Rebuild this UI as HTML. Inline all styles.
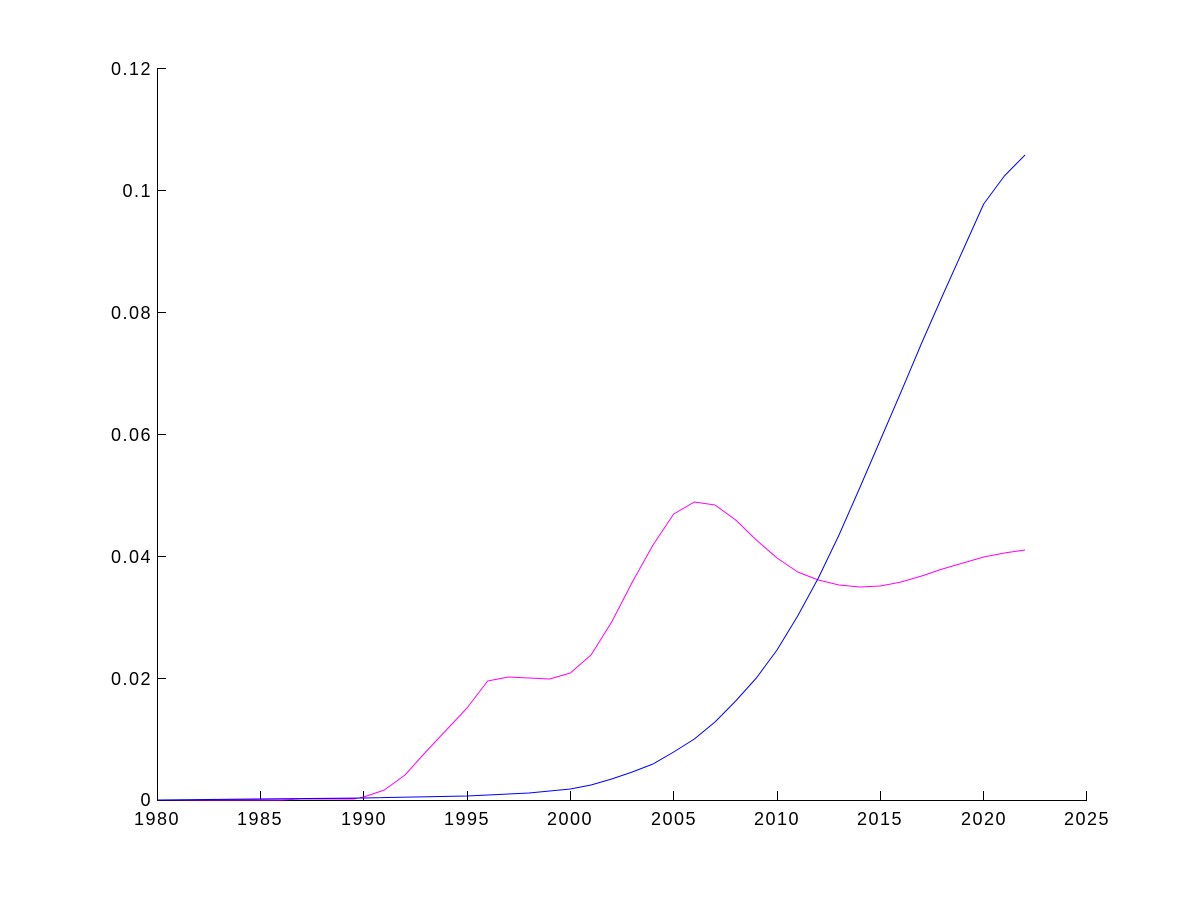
<!DOCTYPE html>
<html><head><meta charset="utf-8"><style>
html,body{margin:0;padding:0;background:#fff;}
svg text{font-family:"Liberation Sans",Arial,sans-serif;font-size:18px;letter-spacing:1.5px;fill:#000;}
</style></head><body>
<svg width="1200" height="900" xmlns="http://www.w3.org/2000/svg">
<rect width="1200" height="900" fill="#fff"/>
<g stroke="#000" stroke-width="1" fill="none" shape-rendering="crispEdges">
<line x1="157.5" y1="68" x2="157.5" y2="800.5"/>
<line x1="157" y1="800.5" x2="1087" y2="800.5"/>
<line x1="157" y1="68.5" x2="166" y2="68.5"/>
<line x1="157" y1="190.5" x2="166" y2="190.5"/>
<line x1="157" y1="312.5" x2="166" y2="312.5"/>
<line x1="157" y1="434.5" x2="166" y2="434.5"/>
<line x1="157" y1="556.5" x2="166" y2="556.5"/>
<line x1="157" y1="678.5" x2="166" y2="678.5"/>
<line x1="260.5" y1="800" x2="260.5" y2="791"/>
<line x1="363.5" y1="800" x2="363.5" y2="791"/>
<line x1="467.5" y1="800" x2="467.5" y2="791"/>
<line x1="570.5" y1="800" x2="570.5" y2="791"/>
<line x1="673.5" y1="800" x2="673.5" y2="791"/>
<line x1="777.5" y1="800" x2="777.5" y2="791"/>
<line x1="880.5" y1="800" x2="880.5" y2="791"/>
<line x1="983.5" y1="800" x2="983.5" y2="791"/>
<line x1="1086.5" y1="800" x2="1086.5" y2="791"/>
</g>
<g text-anchor="end">
<text x="152" y="75">0.12</text>
<text x="152" y="197">0.1</text>
<text x="152" y="319">0.08</text>
<text x="152" y="441">0.06</text>
<text x="152" y="563">0.04</text>
<text x="152" y="685">0.02</text>
<text x="152" y="806">0</text>
</g>
<g text-anchor="middle">
<text x="157" y="825">1980</text>
<text x="260" y="825">1985</text>
<text x="364" y="825">1990</text>
<text x="467" y="825">1995</text>
<text x="570" y="825">2000</text>
<text x="674" y="825">2005</text>
<text x="777" y="825">2010</text>
<text x="880" y="825">2015</text>
<text x="984" y="825">2020</text>
<text x="1087" y="825">2025</text>
</g>
<g transform="translate(157,0) scale(20.667,1)" fill="none" stroke-linejoin="round">
<polyline vector-effect="non-scaling-stroke" stroke="#ff00ff" stroke-width="1"
points="0,800 6,800 7,799 9.5,799 10,797 11,790 12,775 13,752 14,730 15,708 16,681 17,677 18,678 19,679 20,673 21,655 22,622 23,582 24,545 25,514 26,502 27,505 28,520 29,540 30,558 31,572 32,580 33,585 34,587 35,586 36,582 37,576 38,569 39,563 40,557 41,553 42,550"/>
<polyline vector-effect="non-scaling-stroke" stroke="#0000ff" stroke-width="1"
points="0,800 10,798 15,796 18,793 20,789 21,785 22,779 23,772 24,764 25,752 26,739 27,722 28,701 29,678 30,650 31,616 32,578 33,535 34,488 35,440 36,392 37,343 38,296 39,250 40,204 41,176 42,155"/>
</g>
</svg>
</body></html>
